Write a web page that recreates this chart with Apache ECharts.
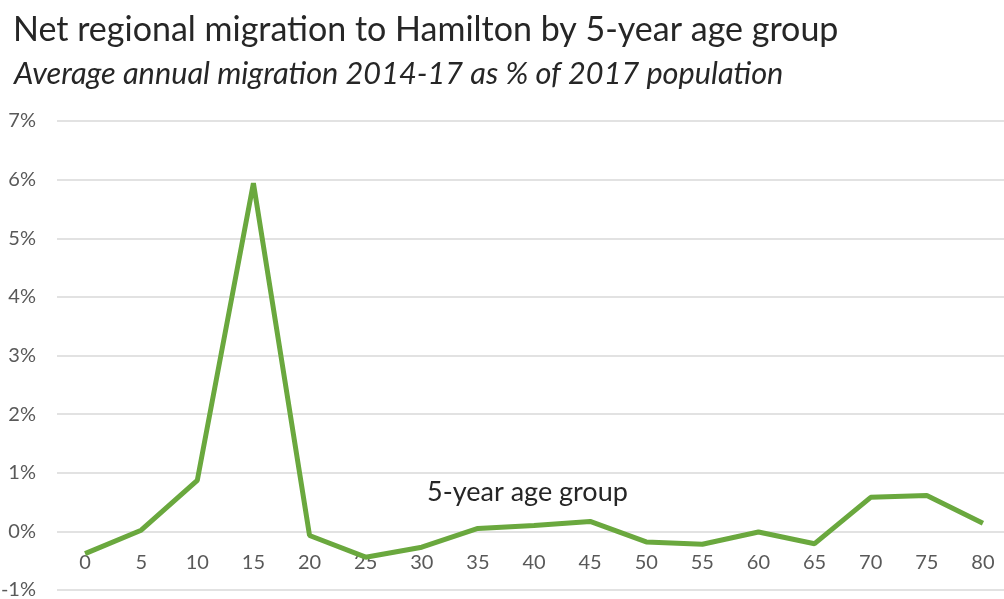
<!DOCTYPE html>
<html><head><meta charset="utf-8">
<script src="https://cdn.jsdelivr.net/npm/echarts@6/dist/echarts.min.js"></script>
<style>html,body{margin:0;padding:0;background:#fff}#c{width:1004px;height:599px}</style>
</head><body><div id="c"></div>
<script>
const titleText = "Net regional migration to Hamilton by 5-year age group";
const subtitleText = "Average annual migration 2014-17 as % of 2017 population";
const xAxisTitle = "5-year age group";
const ageGroups = ["0","5","10","15","20","25","30","35","40","45","50","55","60","65","70","75","80"];
const netMigrationPct = [-0.38, 0.02, 0.87, 5.94, -0.07, -0.44, -0.27, 0.05, 0.10, 0.17, -0.18, -0.22, -0.01, -0.21, 0.58, 0.61, 0.14];
const yTicks = {min: -1, max: 7, interval: 1};

const chart = echarts.init(document.getElementById('c'));
const font = 'Lato, "Open Sans", sans-serif';
chart.setOption({
  animation: false,
  title: [
    {text: titleText, left: 8, top: 8, textStyle: {fontFamily: font, fontSize: 34, fontWeight: 'normal', color: '#262626'}},
    {text: subtitleText, left: 9, top: 54, textStyle: {fontFamily: font, fontSize: 30.7, fontStyle: 'italic', fontWeight: 'normal', color: '#262626'}}
  ],
  grid: {left: 57, right: -7, top: 121, bottom: 9, containLabel: false, outerBoundsMode: 'none'},
  xAxis: {
    type: 'category', data: ageGroups, boundaryGap: true, position: 'bottom',
    axisLine: {show: false, onZero: false},
    axisTick: {show: false},
    axisLabel: {margin: -37, fontFamily: font, fontSize: 20, color: '#595959', interval: 0}
  },
  yAxis: {
    type: 'value', min: yTicks.min, max: yTicks.max, interval: yTicks.interval,
    axisLine: {show: false}, axisTick: {show: false},
    axisLabel: {formatter: v => v + '%', fontFamily: font, fontSize: 20, color: '#595959', margin: 21},
    splitLine: {lineStyle: {color: '#d9d9d9', width: 1.5}}
  },
  graphic: [{type: 'text', left: 427, top: 479, style: {text: xAxisTitle, fontFamily: font, fontSize: 27, fill: '#262626'}}],
  series: [{
    type: 'line', data: netMigrationPct, symbol: 'none',
    lineStyle: {color: '#6aa83e', width: 5}, itemStyle: {color: '#6aa83e'}
  }]
});
</script></body></html>
